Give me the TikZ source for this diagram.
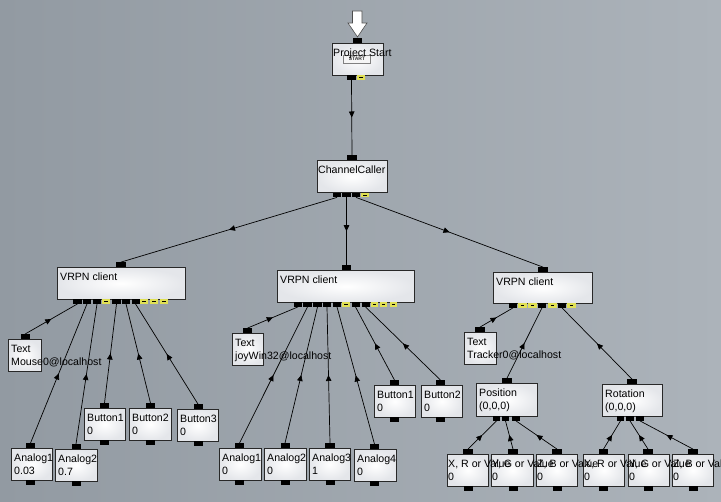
\documentclass[tikz,border=0pt]{standalone}
\usepackage{fontspec}
\setmainfont{Liberation Sans}
\usetikzlibrary{arrows.meta,decorations.markings}
\definecolor{bgl}{RGB}{146,154,162}
\definecolor{bgr}{RGB}{172,179,186}
\definecolor{yel}{RGB}{224,224,84}
\definecolor{boxedge}{RGB}{40,40,40}
\definecolor{boxshade}{RGB}{228,230,234}
\tikzset{
  bx/.style={draw=boxedge,line width=0.8pt,inner sep=0pt,anchor=north west,inner color=white,outer color=boxshade},
  prtin/.style={fill=black,inner sep=0pt,minimum height=4.5pt,anchor=south},
  prtout/.style={fill=black,inner sep=0pt,minimum height=4.5pt,anchor=north},
  yport/.style={fill=yel,inner sep=0pt,minimum height=4.5pt,anchor=north,
    path picture={\draw[black,line width=0.7pt] ([xshift=-1.6pt]path picture bounding box.center) -- ([xshift=1.6pt]path picture bounding box.center);}},
  conn/.style={draw=black,line width=0.7pt,postaction={decorate},
    decoration={markings,mark=at position 0.5 with {\arrow{Triangle[length=6pt,width=5.5pt]}}}},
  connr/.style={draw=black,line width=0.7pt,postaction={decorate},
    decoration={markings,mark=at position 0.5 with {\arrowreversed{Triangle[length=6pt,width=5.5pt]}}}},
  txt/.style={anchor=north west,inner sep=0pt,align=left,font=\fontsize{10.6}{12.6}\selectfont,text=black},
}
\newcommand\mkbox[5]{\node[bx,minimum width=#4pt,minimum height=#5pt] (#1) at (#2,#3) {};}
\newcommand\mkin[4]{\node[prtin,minimum width=#4pt] (#1) at (#2,#3) {};}
\newcommand\mkout[4]{\node[prtout,minimum width=#4pt] (#1) at (#2,#3) {};}
\newcommand\mkyel[4]{\node[yport,minimum width=#4pt] (#1) at (#2,#3) {};}
\newcommand\mktxt[3]{\node[txt] (#1) at ([shift={(3,6.1)}]#2.north west) {#3};}
\begin{document}
\begin{tikzpicture}[x=1pt,y=-1pt]
\useasboundingbox (0,0) rectangle (721,502);
\clip (0,0) rectangle (721,502);
\fill[left color=bgl,right color=bgr] (0,0) rectangle (721,502);

% Project Start
\mkbox{ps}{331.5}{43}{51.5}{32}
\mkin{psin}{357.5}{43}{9}
\mkout{pso}{351.5}{75}{9}
\mkyel{psy}{361}{75}{8}
\node[draw=gray,fill=gray!8,inner sep=0pt,minimum width=27pt,minimum height=7.5pt,
  font=\fontsize{5}{5}\selectfont\bfseries,text=gray!40!black] (startbtn) at (357,59) {START};
\filldraw[fill=white,draw=gray!60!black,line width=0.6pt]
  (352.5,11) -- (362,11) -- (362,23) -- (367,23) -- (357.5,37) -- (348,23) -- (352.5,23) -- cycle;

% ChannelCaller
\mkbox{cc}{317}{160}{70}{32.5}
\mkin{ccin}{352}{160}{10}
\mkout{cco1}{337}{192.5}{8}
\mkout{cco2}{346.5}{192.5}{8.5}
\mkout{cco3}{356}{192.5}{8}
\mkyel{ccy}{365}{192.5}{8}

% left VRPN client
\mkbox{lv}{57}{267}{128}{32}
\mkin{lvin}{121}{267}{10}
\mkout{lvo1}{77.5}{299}{8.5}
\mkout{lvo2}{87}{299}{8.5}
\mkout{lvo3}{97}{299}{8.5}
\mkyel{lvy1}{106}{299}{8}
\mkout{lvo4}{116.5}{299}{8.5}
\mkout{lvo5}{126}{299}{8.5}
\mkout{lvo6}{135.5}{299}{8}
\mkyel{lvy2}{144}{299}{8}
\mkyel{lvy3}{154}{299}{8}
\mkyel{lvy4}{164}{299}{8}

% middle VRPN client
\mkbox{mv}{277}{270}{137}{32}
\mkin{mvin}{346.5}{270}{9.5}
\mkout{mvo1}{298}{302}{8.5}
\mkout{mvo2}{307.5}{302}{8.5}
\mkout{mvo3}{317.5}{302}{8.5}
\mkout{mvo4}{327}{302}{8.5}
\mkout{mvo5}{337}{302}{8}
\mkyel{mvy1}{346}{302}{8}
\mkout{mvo6}{355.5}{302}{8}
\mkout{mvo7}{365.5}{302}{8}
\mkyel{mvy2}{374.5}{302}{7.5}
\mkyel{mvy3}{383.5}{302}{7.5}
\mkyel{mvy4}{393.5}{302}{7.5}

% right VRPN client
\mkbox{rv}{493}{272}{99}{31}
\mkin{rvin}{543}{272}{10}
\mkout{rvo1}{513}{303}{8.5}
\mkyel{rvy1}{522.5}{303}{8.5}
\mkyel{rvy2}{532.5}{303}{8.5}
\mkout{rvo2}{542}{303}{8.5}
\mkyel{rvy3}{552.5}{303}{8.5}
\mkout{rvo3}{562}{303}{8.5}
\mkyel{rvy4}{571.5}{303}{8.5}

% left children
\mkbox{lt}{8}{339}{33}{32}   \mkin{ltin}{25}{339}{9}
\mkbox{la1}{11}{448}{41}{32} \mkin{la1in}{30.5}{448}{9} \mkout{la1o}{30.5}{480}{9}
\mkbox{la2}{55}{449}{42}{32} \mkin{la2in}{76}{449}{9}   \mkout{la2o}{76}{481}{9}
\mkbox{lb1}{84}{408}{41}{32} \mkin{lb1in}{104.5}{408}{9} \mkout{lb1o}{104.5}{440}{9}
\mkbox{lb2}{129}{408}{42}{32} \mkin{lb2in}{150.5}{408}{9} \mkout{lb2o}{150.5}{440}{9}
\mkbox{lb3}{177}{409}{41}{32} \mkin{lb3in}{198}{409}{9} \mkout{lb3o}{198}{441}{9}

% middle children
\mkbox{mt}{232}{333}{31}{32}  \mkin{mtin}{247.5}{333}{9}
\mkbox{ma1}{219}{448}{42}{32} \mkin{ma1in}{239.5}{448}{9} \mkout{ma1o}{239.5}{480}{9}
\mkbox{ma2}{264}{448}{42}{32} \mkin{ma2in}{285}{448}{9}   \mkout{ma2o}{285}{480}{9}
\mkbox{ma3}{309}{448}{41}{32} \mkin{ma3in}{330}{448}{10}  \mkout{ma3o}{330}{480}{9}
\mkbox{ma4}{354}{449}{42}{32} \mkin{ma4in}{374.5}{449}{9} \mkout{ma4o}{374.5}{481}{9}
\mkbox{mb1}{374}{385}{41}{32} \mkin{mb1in}{394.5}{385}{9} \mkout{mb1o}{394.5}{417}{9}
\mkbox{mb2}{421}{385}{41}{32} \mkin{mb2in}{440.5}{385}{9} \mkout{mb2o}{440.5}{417}{9}

% right children
\mkbox{rt}{464}{332}{32}{32}  \mkin{rtin}{480}{332}{10}
\mkbox{pos}{476}{383}{61}{33} \mkin{posin}{507}{383}{10}
\mkout{poso1}{496.5}{416}{7.5} \mkout{poso2}{505.5}{416}{7.5} \mkout{poso3}{516}{416}{8}
\mkbox{rot}{602}{384}{60}{32} \mkin{rotin}{632}{384}{10}
\mkout{roto1}{620.5}{416}{7.5} \mkout{roto2}{630}{416}{8} \mkout{roto3}{640}{416}{8}

\mkbox{c1}{447}{454}{41}{32} \mkin{c1in}{468}{454}{10}   \mkout{c1o}{468}{486}{9}
\mkbox{c2}{491}{454}{42}{32} \mkin{c2in}{513}{454}{10}   \mkout{c2o}{513}{486}{9}
\mkbox{c3}{536}{454}{41}{32} \mkin{c3in}{557}{454}{10}   \mkout{c3o}{557}{486}{9}
\mkbox{c4}{583}{454}{41}{32} \mkin{c4in}{603.5}{454}{9}  \mkout{c4o}{603.5}{486}{9}
\mkbox{c5}{628}{454}{41}{32} \mkin{c5in}{648}{454}{10}   \mkout{c5o}{648}{486}{9}
\mkbox{c6}{672}{454}{41}{32} \mkin{c6in}{693}{454}{10}   \mkout{c6o}{693}{486}{9}

% connectors
\draw[conn] (pso.south) -- (ccin.north);
\draw[conn] (cco1.south) -- (lvin.north);
\draw[conn] (cco2.south) -- (mvin.north);
\draw[conn] (cco3.south) -- (rvin.north);

\draw[connr] (lvo1.south) -- (ltin.north);
\draw[connr] (lvo2.south) -- (la1in.north);
\draw[connr] (lvo3.south) -- (la2in.north);
\draw[connr] (lvo4.south) -- (lb1in.north);
\draw[connr] (lvo5.south) -- (lb2in.north);
\draw[connr] (lvo6.south) -- (lb3in.north);

\draw[connr] (mvo1.south) -- (mtin.north);
\draw[connr] (mvo2.south) -- (ma1in.north);
\draw[connr] (mvo3.south) -- (ma2in.north);
\draw[connr] (mvo4.south) -- (ma3in.north);
\draw[connr] (mvo5.south) -- (ma4in.north);
\draw[connr] (mvo6.south) -- (mb1in.north);
\draw[connr] (mvo7.south) -- (mb2in.north);

\draw[connr] (rvo1.south) -- (rtin.north);
\draw[connr] (rvo2.south) -- (posin.north);
\draw[connr] (rvo3.south) -- (rotin.north);
\draw[connr] (poso1.south) -- (c1in.north);
\draw[connr] (poso2.south) -- (c2in.north);
\draw[connr] (poso3.south) -- (c3in.north);
\draw[connr] (roto1.south) -- (c4in.north);
\draw[connr] (roto2.south) -- (c5in.north);
\draw[connr] (roto3.south) -- (c6in.north);

% texts
\node[txt] (tps) at ([shift={(1.5,5.8)}]ps.north west) {Project Start};
\node[txt] (tcc) at ([shift={(1,6.1)}]cc.north west) {ChannelCaller};
\mktxt{tlv}{lv}{VRPN client}
\mktxt{tmv}{mv}{VRPN client}
\mktxt{trv}{rv}{VRPN client}
\mktxt{tlt}{lt}{Text\\Mouse0@localhost}
\mktxt{tla1}{la1}{Analog1\\0.03}
\mktxt{tla2}{la2}{Analog2\\0.7}
\mktxt{tlb1}{lb1}{Button1\\0}
\mktxt{tlb2}{lb2}{Button2\\0}
\mktxt{tlb3}{lb3}{Button3\\0}
\mktxt{tmt}{mt}{Text\\joyWin32@localhost}
\mktxt{tma1}{ma1}{Analog1\\0}
\mktxt{tma2}{ma2}{Analog2\\0}
\mktxt{tma3}{ma3}{Analog3\\1}
\mktxt{tma4}{ma4}{Analog4\\0}
\mktxt{tmb1}{mb1}{Button1\\0}
\mktxt{tmb2}{mb2}{Button2\\0}
\mktxt{trt}{rt}{Text\\Tracker0@localhost}
\mktxt{tpos}{pos}{Position\\(0,0,0)}
\mktxt{trot}{rot}{Rotation\\(0,0,0)}
\node[txt] (tc1) at ([shift={(1,6.1)}]c1.north west) {X, R or Value\\0};
\node[txt] (tc2) at ([shift={(1,6.1)}]c2.north west) {Y, G or Value\\0};
\node[txt] (tc3) at ([shift={(1,6.1)}]c3.north west) {Z, B or Value\\0};
\node[txt] (tc4) at ([shift={(1,6.1)}]c4.north west) {X, R or Value\\0};
\node[txt] (tc5) at ([shift={(1,6.1)}]c5.north west) {Y, G or Value\\0};
\node[txt] (tc6) at ([shift={(1,6.1)}]c6.north west) {Z, B or Value\\0};
\end{tikzpicture}
\end{document}
